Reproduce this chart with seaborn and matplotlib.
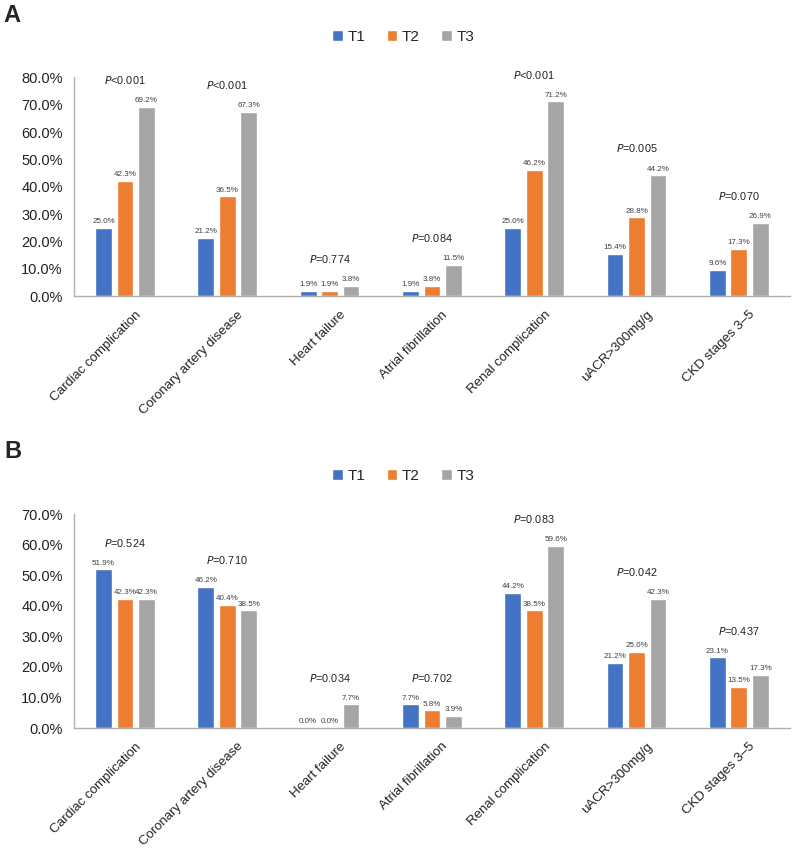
import matplotlib
matplotlib.use("Agg")
import matplotlib.pyplot as plt
import matplotlib.transforms as mtransforms
from matplotlib.ticker import PercentFormatter
import pandas as pd
import seaborn as sns

# Categories and tertile groups
categories = ["Cardiac complication", "Coronary artery disease", "Heart failure",
              "Atrial fibrillation", "Renal complication", "uACR>300mg/g",
              "CKD stages 3\u20135"]
groups = ["T1", "T2", "T3"]

# Panel A values (%)
a_t1 = [25.0, 21.2, 1.9, 1.9, 25.0, 15.4, 9.6]
a_t2 = [42.3, 36.5, 1.9, 3.8, 46.2, 28.8, 17.3]
a_t3 = [69.2, 67.3, 3.8, 11.5, 71.2, 44.2, 26.9]
a_p = ["<0.001", "<0.001", "=0.774", "=0.084", "<0.001", "=0.005", "=0.070"]

# Panel B values (%)
b_t1 = [51.9, 46.2, 0.0, 7.7, 44.2, 21.2, 23.1]
b_t2 = [42.3, 40.4, 0.0, 5.8, 38.5, 25.0, 13.5]
b_t3 = [42.3, 38.5, 7.7, 3.9, 59.6, 42.3, 17.3]
b_p = ["=0.524", "=0.710", "=0.034", "=0.702", "=0.083", "=0.042", "=0.437"]

colors = ["#4472C4", "#ED7D31", "#A5A5A5"]

sns.set_theme(style="white")
plt.rcParams["font.family"] = ["Liberation Sans", "DejaVu Sans"]


def long_df(t1, t2, t3):
    rows = []
    for g, vals in zip(groups, [t1, t2, t3]):
        for c, v in zip(categories, vals):
            rows.append({"cat": c, "group": g, "value": v})
    return pd.DataFrame(rows)


def draw_panel(ax, df, pvals, ymax, legend_y):
    sns.barplot(data=df, x="cat", y="value", hue="group", palette=colors,
                order=categories, hue_order=groups, width=0.63, gap=0.22,
                ax=ax, errorbar=None, saturation=1)
    for cont in ax.containers:
        ax.bar_label(cont, labels=[f"{v:.1f}%" for v in cont.datavalues],
                     fontsize=5.8, color="#404040", padding=2)
    maxvals = df.groupby("cat", sort=False)["value"].max()
    for i, c in enumerate(categories):
        ax.annotate("$\\mathit{P}$" + pvals[i], xy=(i, maxvals[c]),
                    xytext=(0, 15), textcoords="offset points",
                    ha="center", va="bottom", fontsize=7.8, color="#222222")
    ax.set_ylim(0, ymax)
    ax.set_yticks(range(0, ymax + 1, 10))
    ax.yaxis.set_major_formatter(PercentFormatter(decimals=1))
    ax.set_xlim(-0.5, len(categories) - 0.5)
    ax.set_xlabel("")
    ax.set_ylabel("")
    ax.tick_params(axis="y", labelsize=10.5, length=0, pad=8, colors="#222222")
    ax.tick_params(axis="x", labelsize=9.5, length=0, pad=9, colors="#222222")
    shift = mtransforms.ScaledTranslation(7 / 72, 0, fig.dpi_scale_trans)
    for lab in ax.get_xticklabels():
        lab.set_rotation(45)
        lab.set_ha("right")
        lab.set_rotation_mode("anchor")
        lab.set_transform(lab.get_transform() + shift)
    for s in ["top", "right"]:
        ax.spines[s].set_visible(False)
    for s in ["left", "bottom"]:
        ax.spines[s].set_color("#B0B0B0")
        ax.spines[s].set_linewidth(1.0)
    handles, labels = ax.get_legend_handles_labels()
    ax.legend_.remove()
    fig.legend(handles, labels, loc="center", bbox_to_anchor=(0.508, legend_y),
               ncol=3, frameon=False, fontsize=11, handlelength=0.7,
               handleheight=0.7, handletextpad=0.3, columnspacing=1.4)


fig = plt.figure(figsize=(7.94, 8.51), dpi=100)
ax_a = fig.add_axes([0.093, 0.652, 0.902, 0.257])
ax_b = fig.add_axes([0.093, 0.1445, 0.902, 0.2515])

draw_panel(ax_a, long_df(a_t1, a_t2, a_t3), a_p, 80, 1 - 37 / 851)
draw_panel(ax_b, long_df(b_t1, b_t2, b_t3), b_p, 70, 1 - 476 / 851)
fig.text(0.004, 1 - 15 / 851, "A", fontsize=17, fontweight="bold", va="center")
fig.text(0.006, 1 - 451 / 851, "B", fontsize=17, fontweight="bold", va="center")

fig.savefig("out.png", dpi=100)
